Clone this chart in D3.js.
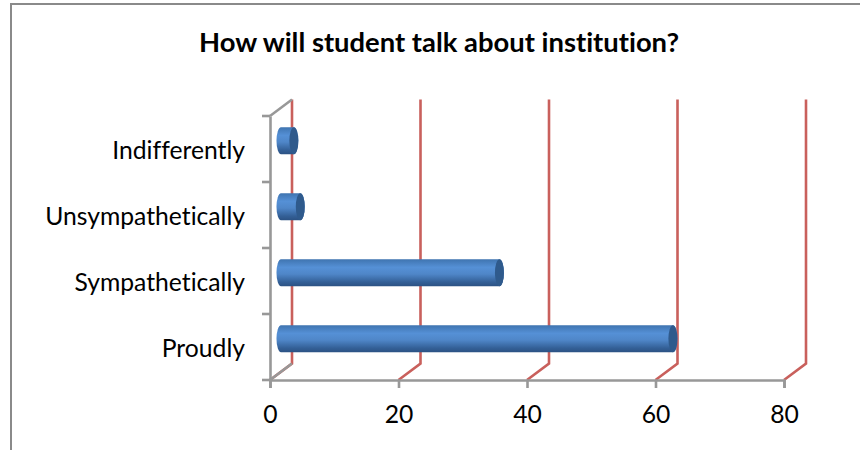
<!DOCTYPE html>
<html>
<head>
<meta charset="utf-8">
<script src="https://cdn.jsdelivr.net/npm/d3@7"></script>
<style>
    html, body { margin: 0; padding: 0; background: #fff; }
    svg { display: block; }
    text { font-family: Lato, "Open Sans", sans-serif; fill: #000; font-variant-ligatures: none; }
</style>
</head>
<body>
<script>
var categories = ['Indifferently', 'Unsympathetically', 'Sympathetically', 'Proudly']
var values = [2, 3, 34, 61]
var xTicks = [0, 20, 40, 60, 80]

var width = 860
var height = 450
// 3d offset of the back wall
var depthX = 22
var depthY = -16.5

var svg = d3.select('body').append('svg')
    .attr('width', width)
    .attr('height', height)

var x = d3.scaleLinear().domain([0, 80]).range([270, 784])
var y = d3.scaleBand().domain(categories).range([116, 380])

var defs = svg.append('defs')
var grad = defs.append('linearGradient')
    .attr('id', 'barFill')
    .attr('x1', 0).attr('y1', 0).attr('x2', 0).attr('y2', 1)
grad.selectAll('stop')
    .data([[0, '#3f74b0'], [0.3, '#5590d6'], [0.55, '#4f86c8'], [0.85, '#335f96'], [1, '#2c5283']])
    .enter()
    .append('stop')
    .attr('offset', function (d) { return d[0] })
    .attr('stop-color', function (d) { return d[1] })

// frame of the picture
svg.append('path')
    .attr('d', 'M11,450V4H860')
    .attr('fill', 'none')
    .attr('stroke', '#8a8a8a')
    .attr('stroke-width', 2)

// red gridlines with their floor segments
svg.append('g').selectAll('path')
    .data(xTicks)
    .enter()
    .append('path')
    .attr('d', function (d) {
        return d3.line()([
            [x(d), y.range()[1]],
            [x(d) + depthX, y.range()[1] + depthY],
            [x(d) + depthX, y.range()[0] + depthY]
        ])
    })
    .attr('fill', 'none')
    .attr('stroke', '#c9605c')
    .attr('stroke-width', 2.6)

// grey wall edge from the axis corners
svg.append('path')
    .attr('d', d3.line()([
        [x(0), y.range()[1]],
        [x(0) + depthX, y.range()[1] + depthY]
    ]))
    .attr('stroke', '#989898')
    .attr('stroke-width', 2.6)
svg.append('path')
    .attr('d', d3.line()([
        [x(0), y.range()[0]],
        [x(0) + depthX, y.range()[0] + depthY]
    ]))
    .attr('stroke', '#989898')
    .attr('stroke-width', 2.6)

var xAxis = svg.append('g')
    .attr('transform', 'translate(0,380)')
    .call(d3.axisBottom(x).tickValues(xTicks).tickSize(8).tickPadding(17))
xAxis.selectAll('text').style('font-size', '24.7px')

var yAxis = svg.append('g')
    .attr('transform', 'translate(270,0)')
    .call(d3.axisLeft(y).tickSize(0).tickPadding(25))
yAxis.selectAll('text').style('font-size', '24.7px').attr('dy', '0.4em')

// ticks of the category axis sit between the bands
yAxis.selectAll('line.boundary')
    .data(categories.concat(['end']))
    .enter()
    .append('line')
    .attr('class', 'boundary')
    .attr('x1', -8)
    .attr('x2', 0)
    .attr('y1', function (d, i) { return i < categories.length ? y(d) : y.range()[1] })
    .attr('y2', function (d, i) { return i < categories.length ? y(d) : y.range()[1] })

svg.selectAll('.domain, .tick line, line.boundary')
    .attr('stroke', '#989898')
    .attr('stroke-width', 2.6)

// cylinders
var barH = 27
var capR = 4.5
var bars = svg.append('g').selectAll('g')
    .data(categories)
    .enter()
    .append('g')
    .attr('transform', function (d) {
        return 'translate(' + (x(0) + depthX / 2) + ',' + (y(d) + y.bandwidth() / 2 + depthY / 2) + ')'
    })

bars.append('path')
    .attr('d', function (d, i) {
        var len = x(values[i]) - x(0)
        return 'M0,' + (-barH / 2) +
            'H' + len +
            'A' + capR + ',' + (barH / 2) + ' 0 0 1 ' + len + ',' + (barH / 2) +
            'H0' +
            'A' + capR + ',' + (barH / 2) + ' 0 0 1 0,' + (-barH / 2) + 'Z'
    })
    .attr('fill', 'url(#barFill)')

bars.append('ellipse')
    .attr('cx', function (d, i) { return x(values[i]) - x(0) })
    .attr('rx', capR)
    .attr('ry', barH / 2)
    .attr('fill', '#2f5a8c')

svg.append('text')
    .attr('x', 439)
    .attr('y', 52)
    .attr('text-anchor', 'middle')
    .style('font-size', '27.4px')
    .style('font-weight', 'bold')
    .text('How will student talk about institution?')
</script>
</body>
</html>
